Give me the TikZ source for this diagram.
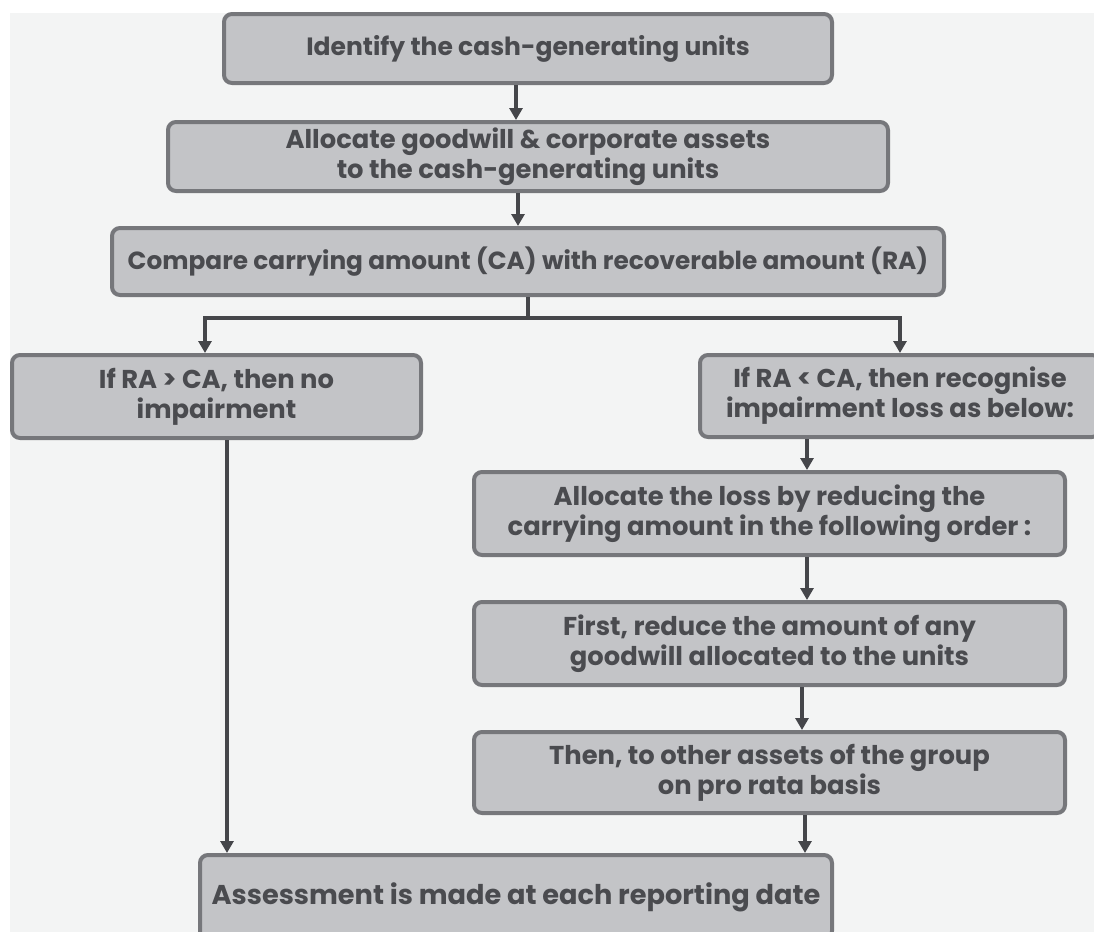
\documentclass[tikz,border=0pt]{standalone}
\usepackage{fontspec}
\setmainfont{Poppins}
\usetikzlibrary{arrows.meta,calc}
\definecolor{bgpanel}{HTML}{F3F4F4}
\definecolor{boxfill}{HTML}{C3C4C7}
\definecolor{boxdraw}{HTML}{76777B}
\definecolor{txt}{HTML}{4A4B4F}
\definecolor{arrowc}{HTML}{45464A}
\begin{document}
\begin{tikzpicture}[x=0.5pt,y=-0.5pt,
  stepbox/.style={draw=boxdraw, line width=2pt, fill=boxfill, rounded corners=4pt,
    inner sep=0pt, align=center, text=txt, font=\fontsize{12.9}{15}\selectfont\bfseries},
  arr/.style={draw=arrowc, line width=1.7pt, -{Triangle[width=6.5pt,length=6pt]}},
  conn/.style={draw=arrowc, line width=1.9pt}]
\useasboundingbox (0,0) rectangle (1094,932);
\clip (0,0) rectangle (1094,932);
\fill[bgpanel] (10,13) rectangle (1094,932);

\node[stepbox, minimum width=304pt, minimum height=34.5pt, font=\fontsize{12.5}{15}\selectfont\bfseries] (n1) at (528,48.5)
  {Identify the cash-generating units};
\node[stepbox, minimum width=360pt, minimum height=34.5pt] (n2) at (528,156.5)
  {Allocate goodwill \& corporate assets\\to the cash-generating units};
\node[stepbox, minimum width=416pt, minimum height=33.5pt, font=\fontsize{12.4}{15}\selectfont\bfseries] (n3) at (528,261.5)
  {Compare carrying amount (CA) with recoverable amount (RA)};
\node[stepbox, minimum width=204.5pt, minimum height=41.5pt] (nL) at (216.5,396.5)
  {If RA > CA, then no\\impairment};
\node[stepbox, minimum width=200pt, minimum height=41pt] (nR) at (900,396)
  {If RA < CA, then recognise\\impairment loss as below:};
\node[stepbox, minimum width=295.5pt, minimum height=41.5pt] (n6) at (769.5,513.5)
  {Allocate the loss by reducing the\\carrying amount in the following order :};
\node[stepbox, minimum width=295.5pt, minimum height=41.5pt] (n7) at (769.5,643.5)
  {First, reduce the amount of any\\goodwill allocated to the units};
\node[stepbox, minimum width=295.5pt, minimum height=40.5pt] (n8) at (769.5,772.5)
  {Then, to other assets of the group\\on pro rata basis};
\node[stepbox, minimum width=316pt, minimum height=42pt, font=\fontsize{13.6}{16}\selectfont\bfseries] (nB) at (516,897)
  {Assessment is made at each reporting date};

\coordinate (split) at (528,318);

\draw[arr] ([xshift=-6pt]n1.south) -- ([xshift=-6pt]n1.south |- n2.north);
\draw[arr] ([xshift=-5pt]n2.south) -- ([xshift=-5pt]n2.south |- n3.north);
\draw[conn] (n3.south) -- (split);
\draw[arr] (split) -| ([xshift=-5.75pt]nL.north);
\draw[arr] (split) -| (nR.north);
\draw[arr] ([xshift=-46.5pt]nR.south) -- ([xshift=-46.5pt]nR.south |- n6.north);
\draw[arr] ([xshift=18.75pt]n6.south) -- ([xshift=18.75pt]n6.south |- n7.north);
\draw[arr] ([xshift=16.25pt]n7.south) -- ([xshift=16.25pt]n7.south |- n8.north);
\draw[arr] ([xshift=17.75pt]n8.south) -- ([xshift=17.75pt]n8.south |- nB.north);
\draw[arr] ([xshift=5.25pt]nL.south) -- ([xshift=5.25pt]nL.south |- nB.north);
\end{tikzpicture}
\end{document}
